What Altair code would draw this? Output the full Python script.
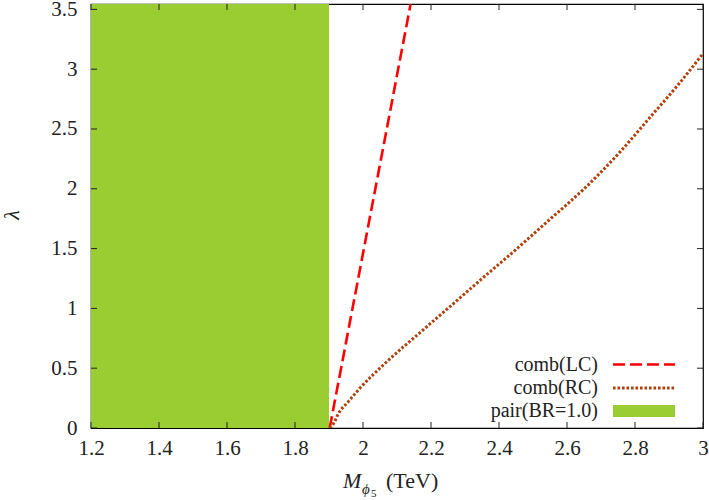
import altair as alt
import pandas as pd

# ---- data ----
x_ticks = [1.2, 1.4, 1.6, 1.8, 2.0, 2.2, 2.4, 2.6, 2.8, 3.0]
y_ticks = [0, 0.5, 1, 1.5, 2, 2.5, 3, 3.5]
x_domain = [1.2, 3.0]
y_domain = [0.0, 3.545]

# comb(LC): red dashed straight line
lc_x = [1.902, 2.14]
lc_y = [0.0, 3.545]

# comb(RC): brown dotted curve
rc_x = [1.902, 1.906, 1.916, 1.927, 1.956, 1.985, 2.070, 2.167, 2.255,
        2.353, 2.453, 2.550, 2.647, 2.756, 2.845, 2.924, 3.0]
rc_y = [0.0, 0.008, 0.05, 0.117, 0.217, 0.314, 0.554, 0.796, 1.013,
        1.256, 1.50, 1.745, 1.991, 2.308, 2.600, 2.860, 3.13]

# pair(BR=1.0): excluded band
pair_x = [1.2]
pair_x2 = [1.9]

legend_labels = ["comb(LC)", "comb(RC)", "pair(BR=1.0)"]

W, H = 612, 424
FONT = "Liberation Serif, Times New Roman, Times, DejaVu Serif, serif"
RED = "#ff0000"
BROWN = "#b0400c"
GREEN = "#9acd32"
INK = "#222222"

xs = alt.Scale(domain=x_domain, nice=False, zero=False)
ys = alt.Scale(domain=y_domain, nice=False, zero=False)

x_axis = alt.Axis(values=x_ticks, format="~g", ticks=False, domain=False, grid=False,
                  title=None, labelFont=FONT, labelFontSize=21, labelColor=INK,
                  labelPadding=9, labelFlush=False)
y_axis = alt.Axis(values=y_ticks, format="~g", ticks=False, domain=False, grid=False,
                  title=None, labelFont=FONT, labelFontSize=21, labelColor=INK,
                  labelPadding=14, labelFlush=False)

pair_df = pd.DataFrame({"x": pair_x, "x2": pair_x2})
band = alt.Chart(pair_df).mark_rect(color=GREEN, opacity=1).encode(
    x=alt.X("x:Q", scale=xs, axis=x_axis),
    x2="x2:Q",
    y=alt.value(0),
    y2=alt.value(H),
)

lc_df = pd.DataFrame({"x": lc_x, "y": lc_y})
lc = alt.Chart(lc_df).mark_line(color=RED, strokeWidth=2.6, strokeDash=[12, 5], clip=True).encode(
    x=alt.X("x:Q", scale=xs),
    y=alt.Y("y:Q", scale=ys, axis=y_axis),
)

rc_df = pd.DataFrame({"x": rc_x, "y": rc_y})
rc = alt.Chart(rc_df).mark_line(color=BROWN, strokeWidth=3, strokeDash=[2.6, 1.9],
                                clip=True, interpolate="monotone").encode(
    x=alt.X("x:Q", scale=xs),
    y=alt.Y("y:Q", scale=ys),
)

# inward ticks on all four sides
xt_df = pd.DataFrame({"t": x_ticks})
yt_df = pd.DataFrame({"t": y_ticks})
tick_len = 6
ticks_bottom = alt.Chart(xt_df).mark_rule(color=INK, strokeWidth=1).encode(
    x=alt.X("t:Q", scale=xs), y=alt.value(H), y2=alt.value(H - tick_len))
ticks_top = alt.Chart(xt_df).mark_rule(color=INK, strokeWidth=1).encode(
    x=alt.X("t:Q", scale=xs), y=alt.value(0), y2=alt.value(tick_len))
ticks_left = alt.Chart(yt_df).mark_rule(color=INK, strokeWidth=1).encode(
    y=alt.Y("t:Q", scale=ys), x=alt.value(0), x2=alt.value(tick_len))
ticks_right = alt.Chart(yt_df).mark_rule(color=INK, strokeWidth=1).encode(
    y=alt.Y("t:Q", scale=ys), x=alt.value(W), x2=alt.value(W - tick_len))

# legend (inside, bottom right; labels left of the keys)
leg_df = pd.DataFrame({"label": legend_labels})
row_y = [360.5, 384, 407]
text_right = 507
key_x1, key_x2 = 522, 584

def leg_text(i):
    return alt.Chart(leg_df.iloc[[i]]).mark_text(
        align="right", baseline="middle", font=FONT, fontSize=20, color=INK
    ).encode(text="label:N", x=alt.value(text_right), y=alt.value(row_y[i]))

leg_lc = alt.Chart(leg_df.iloc[[0]]).mark_rule(color=RED, strokeWidth=2.6, strokeDash=[12, 5]).encode(
    x=alt.value(key_x1), x2=alt.value(key_x2), y=alt.value(row_y[0]))
leg_rc = alt.Chart(leg_df.iloc[[1]]).mark_rule(color=BROWN, strokeWidth=3, strokeDash=[2.6, 1.9]).encode(
    x=alt.value(key_x1), x2=alt.value(key_x2), y=alt.value(row_y[1]))
leg_pair = alt.Chart(leg_df.iloc[[2]]).mark_rect(color=GREEN).encode(
    x=alt.value(key_x1), x2=alt.value(key_x2),
    y=alt.value(row_y[2] - 6), y2=alt.value(row_y[2] + 6))

# axis titles
title_df = pd.DataFrame({"a": ["M"], "b": ["\u03d5"], "c": ["5"], "d": ["(TeV)"], "l": ["\u03bb"]})
t_M = alt.Chart(title_df).mark_text(align="left", baseline="alphabetic", font=FONT, fontSize=22,
                                    fontStyle="italic", color=INK).encode(
    text="a:N", x=alt.value(252), y=alt.value(484))
t_phi = alt.Chart(title_df).mark_text(align="left", baseline="alphabetic", font=FONT, fontSize=15,
                                      fontStyle="italic", color=INK).encode(
    text="b:N", x=alt.value(271), y=alt.value(490))
t_5 = alt.Chart(title_df).mark_text(align="left", baseline="alphabetic", font=FONT, fontSize=11,
                                    color=INK).encode(
    text="c:N", x=alt.value(280), y=alt.value(493))
t_tev = alt.Chart(title_df).mark_text(align="left", baseline="alphabetic", font=FONT, fontSize=22,
                                      color=INK).encode(
    text="d:N", x=alt.value(295), y=alt.value(484))
t_lam = alt.Chart(title_df).mark_text(align="center", baseline="middle", font=FONT, fontSize=22,
                                      fontStyle="italic", color=INK, angle=270).encode(
    text="l:N", x=alt.value(-79), y=alt.value(211))

chart = alt.layer(
    band, lc, rc,
    ticks_bottom, ticks_top, ticks_left, ticks_right,
    leg_text(0), leg_text(1), leg_text(2), leg_lc, leg_rc, leg_pair,
    t_M, t_phi, t_5, t_tev, t_lam,
).properties(
    width=W, height=H,
    autosize=alt.AutoSizeParams(type="none"),
    padding={"left": 91, "top": 4, "right": 6, "bottom": 72},
    background="white",
).configure_view(stroke="black", strokeWidth=1.2)

chart.save("out.html", embed_options={"renderer": "svg", "actions": False})
